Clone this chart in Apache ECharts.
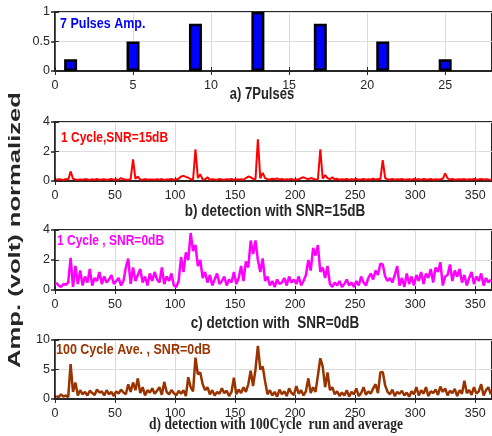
<!DOCTYPE html>
<html>
<head>
<meta charset="utf-8">
<script src="https://cdn.jsdelivr.net/npm/echarts@6/dist/echarts.min.js"></script>
<style>html,body{margin:0;padding:0;background:#fff}#c{width:492px;height:436px}</style>
</head>
<body>
<div id="c"></div>
<script>
// ---- data ----
const pulseX = [1, 5, 9, 13, 17, 21, 25];
const pulseAmp = [0.2, 0.5, 0.8, 1.0, 0.8, 0.5, 0.2];

// samples at x = 1, 3, 5, ... , 363
const snr15 = [
 0.08,0.12,0.1,0.06,0.14,0.09,0.65,0.15,0.1,0.07,
 0.11,0.08,0.13,0.1,0.07,0.12,0.09,0.14,0.08,0.1,
 0.12,0.07,0.1,0.13,0.09,0.11,0.08,0.2,0.12,0.1,
 0.09,0.12,1.47,0.15,0.3,0.1,0.08,0.13,0.09,0.11,
 0.1,0.08,0.12,0.09,0.13,0.07,0.11,0.1,0.14,0.09,
 0.12,0.15,0.3,0.35,0.28,0.22,0.12,0.1,2.15,0.2,
 0.45,0.12,0.1,0.25,0.08,0.12,0.1,0.09,0.13,0.1,
 0.08,0.12,0.1,0.14,0.09,0.11,0.1,0.12,0.08,0.2,
 0.3,0.25,0.15,0.12,2.83,0.18,0.55,0.2,0.12,0.1,
 0.15,0.12,0.18,0.1,0.13,0.09,0.12,0.1,0.14,0.08,
 0.1,0.12,0.2,0.25,0.18,0.12,0.2,0.15,0.1,0.12,
 2.15,0.15,0.4,0.2,0.12,0.25,0.1,0.15,0.08,0.12,
 0.1,0.13,0.09,0.12,0.1,0.14,0.08,0.11,0.13,0.09,
 0.12,0.1,0.15,0.09,0.13,0.11,1.42,0.2,0.12,0.1,
 0.13,0.09,0.12,0.1,0.14,0.08,0.11,0.12,0.09,0.13,
 0.1,0.12,0.08,0.14,0.1,0.11,0.13,0.09,0.12,0.1,
 0.12,0.15,0.52,0.18,0.1,0.13,0.09,0.11,0.12,0.1,
 0.13,0.08,0.12,0.1,0.14,0.09,0.11,0.13,0.1,0.12,
 0.1,0.09
];
const snr0 = [
 0.5,0.3,0.2,0.4,0.35,0.5,2.15,0.2,1.6,0.4,
 1.3,0.3,0.9,0.5,1.4,0.3,0.8,0.6,1.2,0.4,
 0.9,0.5,0.7,1.0,0.4,0.6,0.8,0.3,0.6,1.5,
 2.1,0.4,1.5,0.6,1.0,1.4,0.5,0.9,0.3,1.1,
 0.6,1.2,0.7,0.5,1.5,0.4,0.9,0.6,1.1,0.3,
 0.2,0.6,2.2,1.2,2.5,2.0,3.8,2.6,3.0,1.6,
 2.0,0.8,1.2,0.5,1.0,0.3,0.7,1.1,0.4,0.6,
 0.9,0.3,0.7,0.5,1.2,0.4,0.8,1.6,0.6,1.9,
 1.5,3.3,2.4,3.3,2.0,1.2,2.1,0.6,0.9,0.3,
 0.6,0.2,0.7,0.4,0.5,0.8,0.3,0.9,0.5,0.7,
 0.4,0.9,0.3,0.6,1.0,2.0,1.3,2.8,2.3,3.0,
 1.2,1.5,0.8,1.6,0.4,0.2,0.5,0.3,0.6,0.2,
 0.4,0.7,0.3,0.5,0.2,0.6,0.3,0.9,0.5,0.3,
 0.8,1.1,0.7,1.3,1.0,1.75,1.7,0.9,0.6,0.8,
 0.5,1.0,1.6,0.3,0.8,0.2,1.1,0.4,0.9,0.3,
 1.0,0.6,1.2,0.4,1.1,0.8,1.4,0.5,1.5,1.2,
 1.85,0.3,0.9,1.0,1.7,0.6,1.3,0.9,1.4,0.5,
 1.0,0.3,0.8,1.2,0.4,0.9,0.6,1.1,0.3,0.8,
 0.5,0.7
];
const avg100 = [
 0.5,0.3,0.8,0.4,0.6,0.3,5.9,1.2,2.8,0.6,
 1.5,0.8,1.2,0.6,1.4,1.0,0.7,1.6,1.1,1.3,
 0.6,1.5,0.8,1.2,0.5,1.3,0.9,1.6,1.1,0.8,
 2.5,1.2,2.8,1.5,3.5,1.0,2.0,0.6,1.5,1.1,
 1.8,0.9,1.4,2.0,0.7,2.9,1.2,0.8,1.5,1.0,
 0.6,1.4,0.9,1.5,0.5,3.7,2.0,1.3,7.0,4.2,
 4.5,2.5,1.5,2.0,0.8,1.5,0.6,1.2,0.9,1.8,
 1.0,1.4,0.5,1.2,3.6,0.8,1.6,1.0,2.0,1.2,
 2.5,4.8,2.2,5.0,9.0,5.0,5.5,3.0,0.8,1.5,
 0.6,1.2,0.4,1.6,0.8,1.3,0.5,1.8,1.0,0.7,
 2.2,0.9,1.5,0.6,1.3,3.5,1.0,2.0,1.2,4.0,
 6.9,5.5,2.0,4.5,1.5,2.0,0.8,1.3,0.5,1.1,
 0.6,1.5,0.4,1.2,0.8,1.8,0.5,1.0,2.0,0.7,
 1.3,0.9,1.8,2.5,1.0,4.5,4.6,2.3,1.2,0.8,
 1.6,0.5,1.2,0.9,1.4,0.6,1.1,0.4,1.3,0.8,
 2.0,0.6,1.5,0.9,2.0,0.5,1.3,1.0,1.6,0.7,
 2.1,1.2,1.8,0.6,1.4,1.0,1.7,0.5,1.5,0.9,
 3.1,1.0,1.5,0.7,2.0,0.9,1.3,2.5,0.6,1.5,
 2.0,0.8
];
const sampleStart = 1, sampleStep = 2;

const panelTitles = ['a) 7Pulses', 'b) detection with SNR=15dB', 'c) detction with  SNR=0dB', 'd) detection with 100Cycle  run and average'];
const legendTexts = ['7 Pulses Amp.', '1 Cycle,SNR=15dB', '1 Cycle , SNR=0dB', '100 Cycle Ave. , SNR=0dB'];
const yTitle = 'Amp. (volt) normalized';

const xRanges = [[0, 28, 5], [0, 364, 50], [0, 364, 50], [0, 364, 50]];
const yRanges = [[0, 1, 0.5], [0, 4, 2], [0, 4, 2], [0, 10, 5]];

// ---- chart ----
const chart = echarts.init(document.getElementById('c'), null, {renderer: 'canvas'});
const ink = '#262626';
const gridPos = [
  {top: 12, height: 59},
  {top: 122, height: 59},
  {top: 230, height: 60},
  {top: 340, height: 59}
];
const grid = gridPos.map(g => ({left: 55, right: -3, top: g.top, height: g.height,
  show: true, borderColor: ink, borderWidth: 2, backgroundColor: '#fff', containLabel: false}));

const xAxis = [], yAxis = [];
xRanges.forEach((r, i) => {
  xAxis.push({type: 'value', gridIndex: i, min: r[0], max: r[1], interval: r[2], position: 'bottom',
    axisLine: {show: true, onZero: false, lineStyle: {color: ink, width: 2}},
    axisTick: {show: true, inside: true, length: 4, lineStyle: {color: ink, width: 1}},
    axisLabel: {color: ink, fontSize: 12.5, fontFamily: 'Liberation Sans, Arial', margin: 8, showMaxLabel: false},
    splitLine: {show: true, lineStyle: {color: '#dcdcdc', width: 1}}});
  xAxis.push({type: 'value', gridIndex: i, min: r[0], max: r[1], interval: r[2], position: 'top',
    axisLine: {show: false}, axisLabel: {show: false},
    axisTick: {show: true, inside: true, length: 4, lineStyle: {color: ink, width: 1}},
    splitLine: {show: false}});
});
yRanges.forEach((r, i) => {
  yAxis.push({type: 'value', gridIndex: i, min: r[0], max: r[1], interval: r[2], position: 'left',
    axisLine: {show: true, lineStyle: {color: ink, width: 1.5}},
    axisTick: {show: true, inside: true, length: 4, lineStyle: {color: ink, width: 1}},
    axisLabel: {color: ink, fontSize: 12.5, fontFamily: 'Liberation Sans, Arial', margin: 5},
    splitLine: {show: true, lineStyle: {color: '#dcdcdc', width: 1}}});
  yAxis.push({type: 'value', gridIndex: i, min: r[0], max: r[1], interval: r[2], position: 'right',
    axisLine: {show: false}, axisLabel: {show: false},
    axisTick: {show: true, inside: true, length: 4, lineStyle: {color: ink, width: 1.5}},
    splitLine: {show: false}});
});

function pairs(arr) { return arr.map((v, i) => [sampleStart + sampleStep * i, v]); }

const series = [
  {type: 'bar', xAxisIndex: 0, yAxisIndex: 0, data: pulseX.map((x, i) => [x, pulseAmp[i]]),
   barWidth: 13, itemStyle: {color: '#0000ff', borderColor: '#000', borderWidth: 2.5}, z: 3},
  {type: 'line', xAxisIndex: 2, yAxisIndex: 2, data: pairs(snr15), showSymbol: false,
   lineStyle: {color: '#ff0000', width: 2}, itemStyle: {color: '#ff0000'}, z: 3},
  {type: 'line', xAxisIndex: 4, yAxisIndex: 4, data: pairs(snr0), showSymbol: false,
   lineStyle: {color: '#ff00ff', width: 2.5}, itemStyle: {color: '#ff00ff'}, z: 3},
  {type: 'line', xAxisIndex: 6, yAxisIndex: 6, data: pairs(avg100), showSymbol: false,
   lineStyle: {color: '#993300', width: 2.5}, itemStyle: {color: '#993300'}, z: 3}
];

function txt(t, x, y, opts) {
  return Object.assign({type: 'text', x: x, y: y, z: 50, silent: true,
    style: Object.assign({text: t, fill: ink, fontFamily: 'Liberation Sans, Arial', fontWeight: 'bold', fontSize: 12,
      align: 'left', verticalAlign: 'middle', textAlign: 'left', textVerticalAlign: 'middle'}, opts.style || {})},
    opts.el || {});
}

const graphic = [
  txt(legendTexts[0], 60, 24, {style: {fill: '#0000ff', fontSize: 12.5}, el: {scaleY: 1.2}}),
  txt(legendTexts[1], 61, 138, {style: {fill: '#ff0000', fontSize: 12}, el: {scaleY: 1.2}}),
  txt(legendTexts[2], 57, 241.5, {style: {fill: '#ff00ff', fontSize: 12}, el: {scaleY: 1.2}}),
  txt(legendTexts[3], 56, 350, {style: {fill: '#993300', fontSize: 12.5}, el: {scaleY: 1.2}}),
  txt(panelTitles[0], 262, 95, {style: {fontSize: 13, align: 'center', textAlign: 'center'}, el: {scaleY: 1.2}}),
  txt(panelTitles[1], 275, 212, {style: {fontSize: 13.5, align: 'center', textAlign: 'center'}, el: {scaleY: 1.2}}),
  txt(panelTitles[2], 275, 324, {style: {fontSize: 13.5, align: 'center', textAlign: 'center'}, el: {scaleY: 1.2}}),
  txt(panelTitles[3], 276, 425, {style: {fontSize: 13.5, fontFamily: 'Liberation Serif, Times New Roman', align: 'center', textAlign: 'center'}, el: {scaleY: 1.2}}),
  txt(yTitle, 16, 230, {style: {fontSize: 16, align: 'center', textAlign: 'center'}, el: {rotation: Math.PI / 2, scaleX: 1.6}})
];

chart.setOption({animation: false, backgroundColor: '#fff', grid, xAxis, yAxis, series, graphic});
</script>
</body>
</html>
